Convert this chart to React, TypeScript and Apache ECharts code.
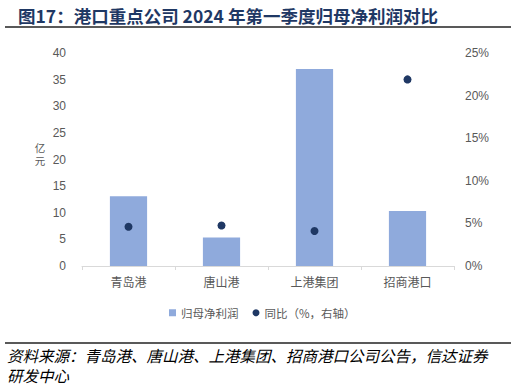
import React, { useEffect, useRef } from "react";
import * as echarts from "echarts";

const categories = ["青岛港", "唐山港", "上港集团", "招商港口"];
const profitValues = [13.1, 5.35, 37.0, 10.35];
const yoyValues = [4.6, 4.75, 4.1, 21.9];
const leftTicks = [0, 5, 10, 15, 20, 25, 30, 35, 40];
const rightTicks = [0, 5, 10, 15, 20, 25];

const CJK = '"Noto Sans CJK SC", "Liberation Sans", sans-serif';
const NUM = '"Liberation Sans", Arial, "Noto Sans CJK SC", sans-serif';

export default function App() {
  const ref = useRef<HTMLDivElement>(null);
  useEffect(() => {
    if (!ref.current) return;
    const chart = echarts.init(ref.current, null, { renderer: "svg" });
    chart.setOption({
      animation: false,
      backgroundColor: "#ffffff",
      grid: { left: 82, right: 62, top: 53, bottom: 120, containLabel: false },
      legend: {
        left: 164,
        top: 302,
        itemWidth: 7,
        itemHeight: 7,
        itemGap: 14,
        textStyle: { fontFamily: CJK, fontSize: 11.5, color: "#595959" },
        data: [
          { name: "归母净利润", icon: "rect" },
          { name: "同比（%，右轴）", icon: "circle" },
        ],
      },
      xAxis: {
        type: "category",
        data: categories,
        axisLine: { lineStyle: { color: "#d9d9d9", width: 1 } },
        axisTick: { show: true, alignWithLabel: false, length: 4, lineStyle: { color: "#d9d9d9" } },
        axisLabel: { fontFamily: CJK, fontSize: 12, color: "#595959", margin: 9 },
      },
      yAxis: [
        {
          type: "value",
          min: leftTicks[0],
          max: leftTicks[leftTicks.length - 1],
          interval: 5,
          splitLine: { show: false },
          axisLine: { show: false },
          axisTick: { show: false },
          axisLabel: { fontFamily: NUM, fontSize: 12, color: "#595959", margin: 16 },
        },
        {
          type: "value",
          min: rightTicks[0],
          max: rightTicks[rightTicks.length - 1],
          interval: 5,
          splitLine: { show: false },
          axisLine: { show: false },
          axisTick: { show: false },
          axisLabel: { fontFamily: NUM, fontSize: 12, color: "#595959", margin: 11, formatter: "{value}%" },
        },
      ],
      series: [
        {
          name: "归母净利润",
          type: "bar",
          data: profitValues,
          barWidth: "40%",
          itemStyle: { color: "#8faadc" },
          yAxisIndex: 0,
        },
        {
          name: "同比（%，右轴）",
          type: "scatter",
          data: yoyValues,
          symbolSize: 8,
          yAxisIndex: 1,
          itemStyle: { color: "#1f3864", opacity: 1 },
        },
      ],
      graphic: [
        {
          type: "text",
          x: 18,
          y: 15,
          style: {
            text: "图17：港口重点公司 2024 年第一季度归母净利润对比",
            fontFamily: CJK,
            fontSize: 17.5,
            fontWeight: "bold",
            fill: "#1f3864",
            verticalAlign: "middle",
          },
        },
        {
          type: "line",
          shape: { x1: 5, y1: 27, x2: 511, y2: 27 },
          style: { stroke: "#595959", lineWidth: 2 },
        },
        {
          type: "text",
          x: 40,
          y: 147,
          style: { text: "亿", fontFamily: CJK, fontSize: 10.5, lineHeight: 11, fill: "#595959", align: "center", verticalAlign: "middle" },
        },
        {
          type: "text",
          x: 40,
          y: 160.5,
          style: { text: "元", fontFamily: CJK, fontSize: 10.5, lineHeight: 11, fill: "#595959", align: "center", verticalAlign: "middle" },
        },
        {
          type: "line",
          shape: { x1: 5, y1: 343, x2: 511, y2: 343 },
          style: { stroke: "#595959", lineWidth: 2 },
        },
        {
          type: "text",
          x: 7,
          y: 354.5,
          style: {
            text: "资料来源：青岛港、唐山港、上港集团、招商港口公司公告，信达证券",
            fontFamily: CJK,
            fontSize: 15.5,
            lineHeight: 16,
            fontStyle: "italic",
            fill: "#000000",
            verticalAlign: "middle",
          },
        },
        {
          type: "text",
          x: 7,
          y: 374.5,
          style: {
            text: "研发中心",
            fontFamily: CJK,
            fontSize: 15.5,
            lineHeight: 16,
            fontStyle: "italic",
            fill: "#000000",
            verticalAlign: "middle",
          },
        },
      ],
    });
    return () => chart.dispose();
  }, []);
  return <div ref={ref} style={{ width: 516, height: 386, position: "absolute", left: 0, top: 0 }} />;
}
